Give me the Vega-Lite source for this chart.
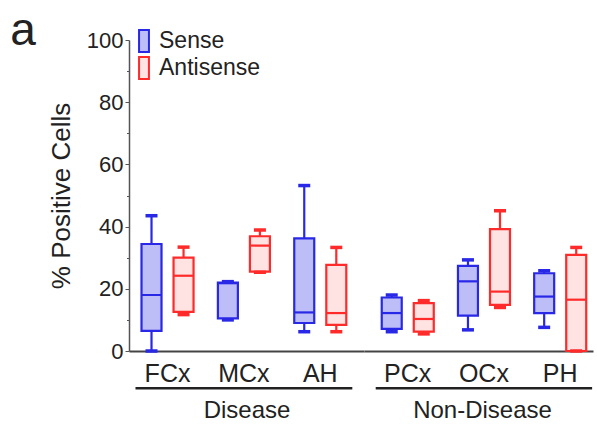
{
  "$schema": "https://vega.github.io/schema/vega-lite/v6.json",
  "background": "white",
  "padding": {"left": 10, "top": 8, "right": 2, "bottom": 2},
  "title": {"text": "a", "anchor": "start", "fontSize": 46, "fontWeight": "normal", "font": "Liberation Sans", "color": "#222", "offset": -26, "dx": -38},
  "config": {
    "view": {"stroke": null},
    "font": "Liberation Sans",
    "tick": {"opacity": 1},
    "axis": {"labelFont": "Liberation Sans", "titleFont": "Liberation Sans", "labelColor": "#222", "titleColor": "#222", "domainColor": "#555", "tickColor": "#555", "grid": false}
  },
  "datasets": {
    "boxes": [
      {"group": "Disease", "region": "FCx", "cond": "Sense", "min": 0, "q1": 6.5, "med": 18, "q3": 34.4, "max": 43.5},
      {"group": "Disease", "region": "FCx", "cond": "Antisense", "min": 11.7, "q1": 12.6, "med": 24.2, "q3": 30, "max": 33.4},
      {"group": "Disease", "region": "MCx", "cond": "Sense", "min": 10, "q1": 10.5, "med": 21.8, "q3": 22, "max": 22.3},
      {"group": "Disease", "region": "MCx", "cond": "Antisense", "min": 25.3, "q1": 25.5, "med": 33.9, "q3": 36.9, "max": 38.9},
      {"group": "Disease", "region": "AH", "cond": "Sense", "min": 6.2, "q1": 9, "med": 12.4, "q3": 36.2, "max": 53.2},
      {"group": "Disease", "region": "AH", "cond": "Antisense", "min": 6.2, "q1": 8.4, "med": 12.2, "q3": 27.7, "max": 33.3},
      {"group": "Non-Disease", "region": "PCx", "cond": "Sense", "min": 6.2, "q1": 7.1, "med": 12.2, "q3": 17.2, "max": 18},
      {"group": "Non-Disease", "region": "PCx", "cond": "Antisense", "min": 5.5, "q1": 6.2, "med": 10.3, "q3": 15.4, "max": 16.2},
      {"group": "Non-Disease", "region": "OCx", "cond": "Sense", "min": 6.8, "q1": 11.4, "med": 22.4, "q3": 27.4, "max": 29.3},
      {"group": "Non-Disease", "region": "OCx", "cond": "Antisense", "min": 14, "q1": 14.8, "med": 19.1, "q3": 39.2, "max": 45.1},
      {"group": "Non-Disease", "region": "PH", "cond": "Sense", "min": 7.6, "q1": 12.2, "med": 17.5, "q3": 25, "max": 25.8},
      {"group": "Non-Disease", "region": "PH", "cond": "Antisense", "min": 0, "q1": 0, "med": 16.5, "q3": 30.9, "max": 33.3}
    ],
    "groups": [
      {"group": "Disease", "first": "FCx", "last": "AH"},
      {"group": "Non-Disease", "first": "PCx", "last": "PH"}
    ]
  },
  "spacing": 0,
  "bounds": "flush",
  "resolve": {"scale": {"x": "independent"}, "legend": {"fill": "independent", "stroke": "independent"}},
  "hconcat": [
    {
      "width": 235,
      "height": 311,
      "data": {"name": "boxes"},
      "transform": [{"filter": "datum.group === 'Disease'"}],
      "resolve": {"axis": {"y": "independent"}},
      "layer": [
        {
          "mark": {"type": "rule", "strokeWidth": 2.2},
          "encoding": {
            "x": {"field": "region", "type": "nominal", "title": "Disease", "scale": {"domain": ["FCx", "MCx", "AH"], "paddingInner": 0.161, "paddingOuter": 0.119, "align": 0.357},
                  "axis": {"titleFontSize": 24, "titleFontWeight": "normal", "titlePadding": 12, "labelFontSize": 25, "ticks": false, "labelPadding": 10, "labelAngle": 0, "domainWidth": 2, "domainColor": "#444"}},
            "xOffset": {"field": "cond", "type": "nominal", "scale": {"domain": ["Sense", "Antisense"]}},
            "y": {"field": "min", "type": "quantitative", "scale": {"domain": [0, 100], "nice": false},
                  "axis": {"values": [0, 20, 40, 60, 80, 100], "title": "% Positive Cells", "titleFontSize": 26, "titleFontWeight": "normal", "labelFontSize": 22, "tickSize": 4, "labelPadding": 2, "titlePadding": 12, "domainWidth": 1.5, "orient": "left"}},
            "y2": {"field": "max"},
            "stroke": {"field": "cond", "type": "nominal", "scale": {"domain": ["Sense", "Antisense"], "range": ["#2828e6", "#ff2a2a"]},
                       "legend": {"title": null, "orient": "none", "legendX": 3, "legendY": -11, "symbolType": "M-0.45,-1H0.45V1H-0.45Z", "symbolSize": 484, "symbolStrokeWidth": 2, "labelFontSize": 23, "labelColor": "#222", "labelOffset": 3, "rowPadding": -10.5, "padding": 0, "labelFont": "Liberation Sans"}}
          }
        },
        {
          "mark": {"type": "bar", "size": 20, "strokeWidth": 2.2},
          "encoding": {
            "x": {"field": "region", "type": "nominal", "title": "Disease"},
            "xOffset": {"field": "cond", "type": "nominal"},
            "y": {"field": "q1", "type": "quantitative", "axis": null},
            "y2": {"field": "q3"},
            "fill": {"field": "cond", "type": "nominal", "scale": {"domain": ["Sense", "Antisense"], "range": ["#bdbdf7", "#ffe3e3"]},
                     "legend": {"title": null, "orient": "none", "legendX": 3, "legendY": -11, "symbolType": "M-0.45,-1H0.45V1H-0.45Z", "symbolSize": 484, "symbolStrokeWidth": 2, "labelFontSize": 23, "labelColor": "#222", "labelOffset": 3, "rowPadding": -10.5, "padding": 0, "labelFont": "Liberation Sans"}},
            "stroke": {"field": "cond", "type": "nominal"}
          }
        },
        {
          "mark": {"type": "tick", "size": 20, "thickness": 2.2},
          "encoding": {
            "x": {"field": "region", "type": "nominal", "title": "Disease"},
            "xOffset": {"field": "cond", "type": "nominal"},
            "y": {"field": "med", "type": "quantitative", "axis": null},
            "color": {"field": "cond", "type": "nominal", "scale": {"domain": ["Sense", "Antisense"], "range": ["#2828e6", "#ff2a2a"]}, "legend": null}
          }
        },
        {
          "mark": {"type": "tick", "size": 12, "thickness": 3.5},
          "encoding": {
            "x": {"field": "region", "type": "nominal", "title": "Disease"},
            "xOffset": {"field": "cond", "type": "nominal"},
            "y": {"field": "min", "type": "quantitative", "axis": null},
            "color": {"field": "cond", "type": "nominal", "legend": null}
          }
        },
        {
          "mark": {"type": "tick", "size": 12, "thickness": 3.5},
          "encoding": {
            "x": {"field": "region", "type": "nominal", "title": "Disease"},
            "xOffset": {"field": "cond", "type": "nominal"},
            "y": {"field": "max", "type": "quantitative", "axis": {"values": [10, 30, 50, 70, 90], "labels": false, "domain": false, "title": null, "tickSize": 2.5, "orient": "left"}},
            "color": {"field": "cond", "type": "nominal", "legend": null}
          }
        },
        {
          "data": {"name": "groups"},
          "transform": [{"filter": "datum.group === 'Disease'"}],
          "mark": {"type": "rule", "strokeWidth": 2.5, "color": "#222"},
          "encoding": {
            "x": {"field": "first", "type": "nominal", "title": "Disease", "bandPosition": 0},
            "x2": {"field": "last", "bandPosition": 1},
            "y": {"datum": -12, "axis": null}
          }
        }
      ]
    },
    {
      "width": 229,
      "height": 311,
      "data": {"name": "boxes"},
      "transform": [{"filter": "datum.group === 'Non-Disease'"}],
      "layer": [
        {
          "mark": {"type": "rule", "strokeWidth": 2.2},
          "encoding": {
            "x": {"field": "region", "type": "nominal", "title": "Non-Disease", "scale": {"domain": ["PCx", "OCx", "PH"], "paddingInner": 0.161, "paddingOuter": 0.0826, "align": 0.93},
                  "axis": {"titleFontSize": 24, "titleFontWeight": "normal", "titlePadding": 12, "titleX": 118, "labelFontSize": 25, "ticks": false, "labelPadding": 10, "labelAngle": 0, "domainWidth": 2, "domainColor": "#444"}},
            "xOffset": {"field": "cond", "type": "nominal", "scale": {"domain": ["Sense", "Antisense"]}},
            "y": {"field": "min", "type": "quantitative", "scale": {"domain": [0, 100], "nice": false}, "axis": null},
            "y2": {"field": "max"},
            "stroke": {"field": "cond", "type": "nominal", "scale": {"domain": ["Sense", "Antisense"], "range": ["#2828e6", "#ff2a2a"]}, "legend": null}
          }
        },
        {
          "mark": {"type": "bar", "size": 20, "strokeWidth": 2.2},
          "encoding": {
            "x": {"field": "region", "type": "nominal", "title": "Non-Disease"},
            "xOffset": {"field": "cond", "type": "nominal"},
            "y": {"field": "q1", "type": "quantitative", "axis": null},
            "y2": {"field": "q3"},
            "fill": {"field": "cond", "type": "nominal", "scale": {"domain": ["Sense", "Antisense"], "range": ["#bdbdf7", "#ffe3e3"]}, "legend": null},
            "stroke": {"field": "cond", "type": "nominal", "legend": null}
          }
        },
        {
          "mark": {"type": "tick", "size": 20, "thickness": 2.2},
          "encoding": {
            "x": {"field": "region", "type": "nominal", "title": "Non-Disease"},
            "xOffset": {"field": "cond", "type": "nominal"},
            "y": {"field": "med", "type": "quantitative", "axis": null},
            "color": {"field": "cond", "type": "nominal", "scale": {"domain": ["Sense", "Antisense"], "range": ["#2828e6", "#ff2a2a"]}, "legend": null}
          }
        },
        {
          "mark": {"type": "tick", "size": 12, "thickness": 3.5},
          "encoding": {
            "x": {"field": "region", "type": "nominal", "title": "Non-Disease"},
            "xOffset": {"field": "cond", "type": "nominal"},
            "y": {"field": "min", "type": "quantitative", "axis": null},
            "color": {"field": "cond", "type": "nominal", "legend": null}
          }
        },
        {
          "mark": {"type": "tick", "size": 12, "thickness": 3.5},
          "encoding": {
            "x": {"field": "region", "type": "nominal", "title": "Non-Disease"},
            "xOffset": {"field": "cond", "type": "nominal"},
            "y": {"field": "max", "type": "quantitative", "axis": null},
            "color": {"field": "cond", "type": "nominal", "legend": null}
          }
        },
        {
          "data": {"name": "groups"},
          "transform": [{"filter": "datum.group === 'Non-Disease'"}],
          "mark": {"type": "rule", "strokeWidth": 2.5, "color": "#222"},
          "encoding": {
            "x": {"field": "first", "type": "nominal", "title": "Non-Disease", "bandPosition": 0},
            "x2": {"field": "last", "bandPosition": 1},
            "y": {"datum": -12, "axis": null}
          }
        }
      ]
    }
  ]
}
